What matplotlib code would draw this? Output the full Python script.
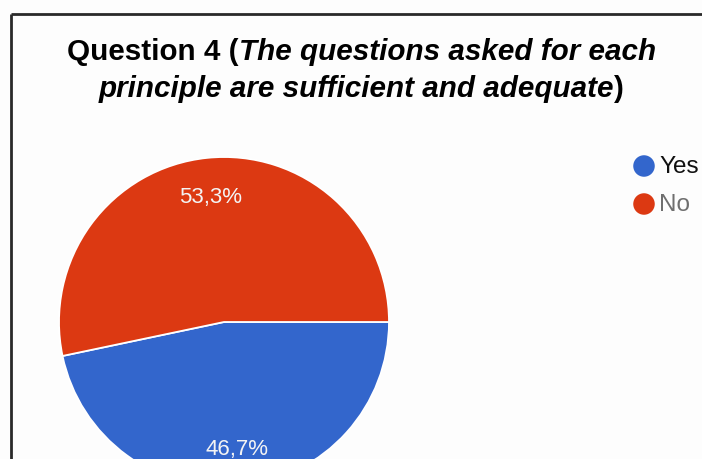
import matplotlib

matplotlib.use("Agg")
import matplotlib.pyplot as plt
from matplotlib.transforms import offset_copy

answers = ["Yes", "No"]
shares = [46.7, 53.3]
colors = ["#3366cc", "#dc3912"]
legend_text_colors = ["#111111", "#6f6f6f"]

W, H = 702, 459
plt.rcParams["font.family"] = ["Liberation Sans", "DejaVu Sans"]

fig = plt.figure(figsize=(W / 100, H / 100), dpi=100)
fig.patch.set_facecolor("#fdfdfd")

# overlay in pixel coordinates for frame, title and legend
ov = fig.add_axes([0, 0, 1, 1])
ov.set_xlim(0, W)
ov.set_ylim(H, 0)
ov.axis("off")
ov.plot([11, W], [14, 14], color="#2a2a2a", lw=2, solid_capstyle="butt")
ov.plot([11, 11], [14, H], color="#2a2a2a", lw=2, solid_capstyle="butt")

# pie
cx, cy, r = 224, 322, 165
ax = fig.add_axes([(cx - r) / W, (H - cy - r) / H, 2 * r / W, 2 * r / H])
wedges, _, autotexts = ax.pie(
    shares,
    colors=colors,
    startangle=0,
    counterclock=False,
    radius=1,
    autopct=lambda p: f"{p:.1f}%".replace(".", ","),
    pctdistance=0.765,
    wedgeprops=dict(edgecolor="white", linewidth=1.3),
    textprops=dict(color="#f4f4f4", fontsize=16),
)
for t in autotexts:
    t.set_transform(offset_copy(t.get_transform(), fig=fig, y=-1.5, units="dots"))
ax.set_xlim(-1, 1)
ax.set_ylim(-1, 1)

# title with mixed bold / bold italic pieces
fs = 21.3
lines = [
    [("Question 4 (", "normal"), ("The questions asked for each", "italic")],
    [("principle are sufficient and adequate", "italic"), (")", "normal")],
]
baselines = [60, 97]
center_x = 361.5
renderer = fig.canvas.get_renderer()
for parts, base in zip(lines, baselines):
    texts = []
    for s, style in parts:
        t = ov.text(0, base, s, fontsize=fs, fontweight="bold", fontstyle=style,
                    va="baseline", ha="left", color="#000000")
        texts.append(t)
    widths = [t.get_window_extent(renderer).width for t in texts]
    x = center_x - sum(widths) / 2
    for t, w in zip(texts, widths):
        t.set_x(x)
        x += w

# legend
for i, (name, col, tcol) in enumerate(zip(answers, colors, legend_text_colors)):
    y = 166 + i * 38
    ov.scatter([644], [y], s=240, color=col, edgecolors="none")
    ov.text(659, y + 1, name, fontsize=17.5, va="center", ha="left", color=tcol)

fig.savefig("out.png", dpi=100, facecolor=fig.get_facecolor())
